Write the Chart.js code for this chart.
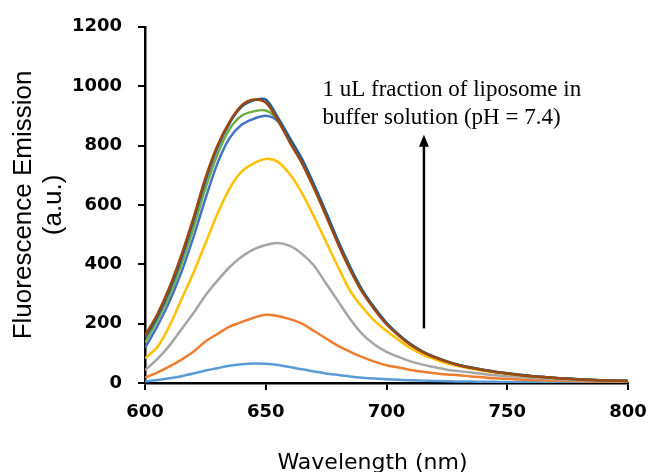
<!DOCTYPE html>
<html>
<head>
<meta charset="utf-8">
<script src="https://cdn.jsdelivr.net/npm/chart.js@4"></script>
<style>
  html, body { margin: 0; padding: 0; background: #fff; }
  #wrap { width: 651px; height: 472px; }
</style>
</head>
<body>
<div id="wrap"><canvas id="chart"></canvas></div>
<script>
// wavelength in nm, one reading every 5 nm
const wavelength = [600,605,610,615,620,625,630,635,640,645,650,655,660,665,670,675,680,685,690,695,
                    700,705,710,715,720,725,730,735,740,745,750,755,760,765,770,775,780,785,790,795,800];

// fluorescence emission (a.u.), one list per added fraction
const run1 = [5,10,16,23,32,42,50,58,63,66,65,61,54,46,39,32,27,22,18,15,13,11,9,8,7,6,5,5,4,4,3,3,3,2,2,2,2,2,1,1,1];
const run2 = [18,35,55,78,105,140,165,190,205,220,230,226,215,200,175,150,125,105,87,72,60,52,44,38,33,29,26,22,19,16,14,12,10,9,8,7,6,5,5,4,4];
const run3 = [43,80,125,180,235,295,345,390,425,450,465,472,462,435,395,335,275,215,165,130,105,88,73,62,53,45,40,35,30,26,23,20,17,15,13,11,9,8,7,6,5];
const run4 = [83,120,190,280,370,470,570,655,712,740,755,745,703,640,560,475,390,310,255,210,175,145,117,96,80,66,56,48,41,35,30,26,22,19,16,14,12,10,9,8,7];
const run5 = [118,190,272,372,490,620,740,825,870,890,900,882,818,748,662,570,474,387,310,251,200,162,130,105,87,72,60,51,44,37,32,27,23,20,17,14,12,10,9,8,7];
const run6 = [135,210,292,398,520,655,770,855,900,915,918,888,820,750,664,572,475,388,311,252,201,163,130,105,87,73,61,52,44,38,32,28,23,20,17,14,12,10,9,8,7];
const run7 = [152,222,310,418,545,680,793,875,930,952,955,895,825,755,668,575,478,390,313,254,203,164,131,106,88,73,61,52,45,38,33,28,24,20,17,15,13,11,9,8,7];
const run8 = [160,230,320,430,555,690,800,880,935,955,945,885,810,740,655,562,467,380,305,248,198,160,128,104,86,72,60,51,44,37,32,27,23,20,17,14,12,10,9,8,7];

const runs = [run1, run2, run3, run4, run5, run6, run7, run8];
const colors = ['#5B9BD5','#ED7D31','#A5A5A5','#FFC000','#4472C4','#70AD47','#255E91','#9E480E'];

const xTicks = [600, 650, 700, 750, 800];
const yTicks = [0, 200, 400, 600, 800, 1000, 1200];

const noteLines = ['1 uL fraction of liposome in', 'buffer solution (pH = 7.4)'];

// arrow + note text, placed in data units
const notePlugin = {
  id: 'note',
  afterDatasetsDraw(chart) {
    const { ctx, scales: { x, y } } = chart;
    const ax = x.getPixelForValue(715.5);
    const yBot = y.getPixelForValue(184);
    const yTop = y.getPixelForValue(836);
    ctx.save();
    ctx.strokeStyle = '#000';
    ctx.fillStyle = '#000';
    ctx.lineWidth = 2.5;
    ctx.beginPath();
    ctx.moveTo(ax, yBot);
    ctx.lineTo(ax, yTop + 8);
    ctx.stroke();
    ctx.beginPath();
    ctx.moveTo(ax, yTop);
    ctx.lineTo(ax - 5, yTop + 12);
    ctx.lineTo(ax + 5, yTop + 12);
    ctx.closePath();
    ctx.fill();

    ctx.font = '23px "Liberation Serif", "Times New Roman", serif';
    ctx.textBaseline = 'alphabetic';
    const tx = x.getPixelForValue(673.5);
    ctx.fillText(noteLines[0], tx, y.getPixelForValue(968));
    ctx.fillText(noteLines[1], tx, y.getPixelForValue(873));
    ctx.restore();
  }
};

const datasets = runs.map((vals, i) => ({
  label: 'run ' + (i + 1),
  data: wavelength.map((w, j) => ({ x: w, y: vals[j] })),
  borderColor: colors[i],
  backgroundColor: colors[i],
  borderWidth: 2.5,
  pointRadius: 0,
  tension: 0.3,
  fill: false,
  order: runs.length - i
}));

const tickFont = { family: '"DejaVu Sans", sans-serif', size: 18, weight: 'bold' };

new Chart(document.getElementById('chart'), {
  type: 'line',
  data: { datasets },
  options: {
    responsive: true,
    maintainAspectRatio: false,
    animation: false,
    layout: { padding: { left: 5, top: 13, right: 0, bottom: 0 } },
    plugins: { legend: { display: false }, tooltip: { enabled: false } },
    scales: {
      x: {
        type: 'linear',
        min: 600,
        max: 800,
        afterBuildTicks: (s) => { s.ticks = xTicks.map(v => ({ value: v })); },
        afterFit: (s) => { s.height = 89; s.paddingLeft = 0; s.paddingRight = 23; },
        ticks: { color: '#000', font: tickFont, padding: 12, maxRotation: 0, callback: v => String(v) },
        grid: { drawOnChartArea: false, drawTicks: true, tickLength: 7, color: '#000', lineWidth: 2 },
        border: { display: true, color: '#000', width: 2.5 },
        title: {
          display: true,
          text: 'Wavelength (nm)    ',
          color: '#000',
          font: { family: '"DejaVu Sans", sans-serif', size: 22, lineHeight: 0.8 },
          padding: { top: 10, bottom: 0 }
        }
      },
      y: {
        min: 0,
        max: 1200,
        afterBuildTicks: (s) => { s.ticks = yTicks.map(v => ({ value: v })); },
        afterFit: (s) => { s.width = 140; },
        ticks: { color: '#000', font: tickFont, padding: 16, callback: v => String(v) },
        grid: { drawOnChartArea: false, drawTicks: true, tickLength: 7, color: '#000', lineWidth: 2 },
        border: { display: true, color: '#000', width: 2.5 },
        title: {
          display: true,
          text: ['Fluorescence Emission', '(a.u.)'],
          color: '#000',
          font: { family: '"Liberation Sans", Arial, sans-serif', size: 26, lineHeight: 1.15 },
          padding: { top: 4, bottom: 4 }
        }
      }
    }
  },
  plugins: [notePlugin]
});
</script>
</body>
</html>
